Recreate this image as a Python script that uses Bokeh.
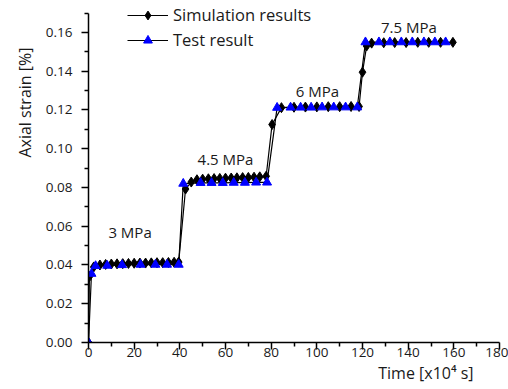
from bokeh.plotting import figure
from bokeh.models import Range1d, Legend, LegendItem, Title, FixedTicker, PrintfTickFormatter
from bokeh.core.properties import value
from bokeh.embed import file_html
from bokeh.resources import INLINE

# ---- data ----
sim_time = [0, 0.4, 2.3, 5, 7.5, 10, 12.5, 15, 17.5, 20, 22.5, 25, 27.5, 30, 32.5, 35, 37.5, 39.5,
            42.5, 45, 47.5, 50, 52.5, 55, 57.5, 60, 62.5, 65, 67.5, 70, 72.5, 75, 77.8,
            80.4, 84.5, 90, 95, 100, 105, 110, 115, 118.5,
            120.0, 121.8, 124, 129.3, 134.1, 139.1, 144.2, 149, 154.2, 159.6]
sim_strain = [0, 0.034, 0.0390, 0.0400, 0.0403, 0.0405, 0.0406, 0.0407, 0.0408, 0.0409, 0.0410, 0.0410,
              0.0411, 0.0412, 0.0412, 0.0413, 0.0414, 0.0415,
              0.0792, 0.0828, 0.0840, 0.0843, 0.0845, 0.0846, 0.0847, 0.0848, 0.0849, 0.0850, 0.0851,
              0.0852, 0.0853, 0.0855, 0.0858,
              0.1125, 0.1212, 0.1214, 0.1215, 0.1216, 0.1217, 0.1217, 0.1218, 0.1218,
              0.1395, 0.1530, 0.1545, 0.1547, 0.1548, 0.1548, 0.1549, 0.1549, 0.1549, 0.1549]

test_time = [0, 1.3, 3.1, 8.2, 14.7, 22.8, 29.3, 34.4, 39.5,
             41.5, 49.1, 53.9, 58.8, 63.6, 68.5, 73.4, 78.2,
             82.6, 88.5, 92.9, 97.5, 102.3, 107.4, 112.6, 117.7,
             121.3, 127.2, 132.0, 137.0, 141.8, 146.9, 151.7, 156.4]
test_strain = [0, 0.0355, 0.0395, 0.0397, 0.0400, 0.0402, 0.0402, 0.0402, 0.0402,
               0.0820, 0.0824, 0.0824, 0.0824, 0.0825, 0.0825, 0.0826, 0.0826,
               0.1212, 0.1213, 0.1213, 0.1213, 0.1214, 0.1214, 0.1214, 0.1214,
               0.1550, 0.1550, 0.1550, 0.1550, 0.1550, 0.1550, 0.1550, 0.1550]

stage_labels = ["3 MPa", "4.5 MPa", "6 MPa", "7.5 MPa"]
stage_x = [18.2, 60.0, 100.3, 140.3]
stage_y = [0.0568, 0.0946, 0.1300, 0.1626]

x_ticks = [0, 20, 40, 60, 80, 100, 120, 140, 160, 180]
x_minor = [10, 30, 50, 70, 90, 110, 130, 150, 170]
y_ticks = [0.00, 0.02, 0.04, 0.06, 0.08, 0.10, 0.12, 0.14, 0.16]
y_minor = [0.01, 0.03, 0.05, 0.07, 0.09, 0.11, 0.13, 0.15, 0.17]
y_axis_end = 0.17

FONT = "Open Sans"
TXT = "#1a1a1a"

p = figure(width=508, height=389, output_backend="svg", toolbar_location=None,
           x_range=Range1d(0, 180), y_range=Range1d(0, 0.1765),
           min_border_left=88, min_border_right=9, min_border_top=0, min_border_bottom=47)
p.outline_line_color = None
p.grid.visible = False

for ax in (p.xaxis[0], p.yaxis[0]):
    ax.axis_line_color = "black"
    ax.axis_line_width = 1.5
    ax.major_tick_line_color = "black"
    ax.major_tick_line_width = 1.5
    ax.minor_tick_line_color = "black"
    ax.minor_tick_line_width = 1.5
    ax.major_tick_in = 0
    ax.major_tick_out = 7
    ax.minor_tick_in = 0
    ax.minor_tick_out = 4
    ax.major_label_text_font = FONT
    ax.major_label_text_font_size = "13.5px"
    ax.major_label_text_color = TXT

p.xaxis[0].ticker = FixedTicker(ticks=x_ticks, minor_ticks=x_minor)
p.xaxis[0].formatter = PrintfTickFormatter(format="%d")
p.xaxis[0].major_label_standoff = -2

p.yaxis[0].ticker = FixedTicker(ticks=y_ticks, minor_ticks=y_minor)
p.yaxis[0].formatter = PrintfTickFormatter(format="%.2f")
p.yaxis[0].major_label_standoff = 9
p.yaxis[0].bounds = (0, y_axis_end)

sim_line = p.line(sim_time, sim_strain, line_color="black", line_width=1.2)
sim_pts = p.scatter(sim_time, sim_strain, marker="diamond", size=10,
                    fill_color="black", line_color="black")
test_line = p.line(test_time, test_strain, line_color="black", line_width=1.2)
test_pts = p.scatter(test_time, test_strain, marker="triangle", size=9,
                     fill_color="#0000ff", line_color="#0000ff")

p.text(x=stage_x, y=stage_y, text=stage_labels, text_align="center", text_baseline="middle",
       text_font=value(FONT), text_font_size="15px", text_color=TXT)

p.add_layout(Title(text="Time [x10\u2074 s]", align="right", offset=26, standoff=0,
                   text_font=FONT, text_font_size="16px", text_font_style="normal",
                   text_color=TXT), "below")
p.add_layout(Title(text="Axial strain [%]", align="right", offset=47, standoff=14,
                   text_font=FONT, text_font_size="16px", text_font_style="normal",
                   text_color=TXT), "left")

legend = Legend(items=[LegendItem(label="Simulation results", renderers=[sim_line, sim_pts]),
                       LegendItem(label="Test result", renderers=[test_line, test_pts])],
                location=(39, 291), orientation="vertical", glyph_width=41, glyph_height=22,
                label_height=22, spacing=2, padding=0, margin=0, label_standoff=5,
                border_line_alpha=0, background_fill_alpha=0,
                label_text_font=FONT, label_text_font_size="16.5px", label_text_color=TXT)
p.add_layout(legend)

open("out.html", "w").write(file_html(p, INLINE))
